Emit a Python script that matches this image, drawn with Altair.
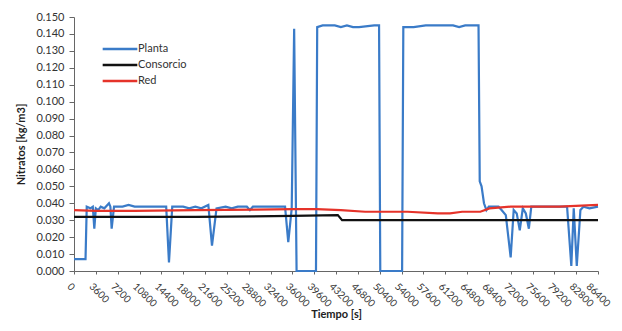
import altair as alt
import pandas as pd

planta_t = [0, 1900, 2100, 2700, 3100, 3350, 3600, 4000, 4400, 5000, 5770, 6000, 6210, 6600,
            8000, 9000, 10000, 12000, 14000, 15200, 15660, 16200, 18000, 19000, 20000, 21000,
            22150, 22750, 23500, 25000, 26000, 27000, 28500, 29000, 29500, 31000, 33000, 34800,
            35330, 35900, 36300, 36700, 39900, 40100, 41000, 43000, 44000, 45000, 46000, 47000,
            49500, 50300, 50500, 54100, 54300, 56000, 58000, 60000, 61500, 62500, 63500, 64500,
            66700, 66900, 67200, 67600, 68000, 68400, 69000, 70000, 70500, 71200, 72000, 72500,
            73000, 73500, 74000, 74500, 75000, 75400, 77000, 79000, 81300, 82000, 82400, 82900,
            83500, 84000, 85000, 86400]
planta_v = [0.007, 0.007, 0.038, 0.037, 0.038, 0.025, 0.037, 0.036, 0.038, 0.037, 0.040, 0.038, 0.025, 0.038,
            0.038, 0.039, 0.038, 0.038, 0.038, 0.038, 0.005, 0.038, 0.038, 0.037, 0.038, 0.037,
            0.039, 0.015, 0.037, 0.038, 0.037, 0.038, 0.038, 0.036, 0.038, 0.038, 0.038, 0.038,
            0.017, 0.037, 0.143, 0.000, 0.000, 0.144, 0.145, 0.145, 0.144, 0.145, 0.144, 0.144,
            0.145, 0.145, 0.000, 0.000, 0.144, 0.144, 0.145, 0.145, 0.145, 0.145, 0.144, 0.145,
            0.145, 0.053, 0.050, 0.040, 0.036, 0.038, 0.038, 0.038, 0.036, 0.033, 0.008, 0.036,
            0.034, 0.024, 0.037, 0.034, 0.025, 0.038, 0.038, 0.038, 0.038, 0.003, 0.037, 0.003,
            0.036, 0.038, 0.037, 0.038]

consorcio_t = [0, 20000, 36000, 43500, 44200, 60000, 86400]
consorcio_v = [0.032, 0.032, 0.0325, 0.033, 0.030, 0.030, 0.030]

red_t = [0, 3600, 10000, 20000, 30000, 36000, 40000, 44000, 48000, 55000, 60000, 62000,
         64000, 67000, 68500, 72000, 80000, 86400]
red_v = [0.036, 0.0355, 0.0355, 0.036, 0.0363, 0.0365, 0.0365, 0.036, 0.035, 0.035, 0.034, 0.034,
         0.035, 0.035, 0.037, 0.038, 0.038, 0.039]

series = ["Planta", "Consorcio", "Red"]
colors = ["#3a7bc8", "#111111", "#e5332a"]
x_ticks = list(range(0, 86401, 3600))
y_ticks = [round(i * 0.01, 3) for i in range(16)]

FONT = "Lato"

def frame(name, t, v):
    return pd.DataFrame({"t": t, "v": v, "serie": name})

x_enc = alt.X("t:Q", scale=alt.Scale(domain=[0, 86400], nice=False),
              axis=alt.Axis(values=x_ticks, labelAngle=45, labelAlign="left", labelBaseline="top",
                            labelPadding=7,
                            labelOffset={"condition": {"test": "datum.value >= 86400", "value": -7}, "value": -2},
                            tickSize=3, title="Tiempo [s]",
                            titlePadding=0, labelFontSize=10, labelOverlap=False, format="d"))
y_enc = alt.Y("v:Q", scale=alt.Scale(domain=[0, 0.15], nice=False),
              axis=alt.Axis(values=y_ticks, format=".3f", tickSize=5, labelPadding=5,
                            title="Nitratos [kg/m3]", titlePadding=9))
c_enc = alt.Color("serie:N", scale=alt.Scale(domain=series, range=colors),
                  legend=alt.Legend(title=None, orient="none", legendX=36, legendY=22,
                                    symbolType="M-2,0H2", symbolSize=300, symbolStrokeWidth=2.5,
                                    labelOffset=8, labelFontSize=11, padding=0,
                                    rowPadding=1, labelColor="#333333", labelFont=FONT))

layers = []
for name, t, v in [("Planta", planta_t, planta_v), ("Consorcio", consorcio_t, consorcio_v), ("Red", red_t, red_v)]:
    layers.append(alt.Chart(frame(name, t, v)).mark_line(strokeWidth=2.2).encode(x=x_enc, y=y_enc, color=c_enc))

chart = alt.layer(*layers).properties(
    width=524, height=254,
    autosize=alt.AutoSizeParams(type="none"),
    padding={"left": 66, "top": 9, "right": 16, "bottom": 52},
).configure_view(stroke=None).configure_axis(
    grid=False, domainColor="#666666", tickColor="#666666", labelColor="#333333",
    labelFont=FONT, labelFontSize=11, titleFont=FONT, titleFontSize=11, titleFontWeight="bold",
    titleColor="#222222"
)

chart.save("out.html", embed_options={"renderer": "svg", "actions": False})
